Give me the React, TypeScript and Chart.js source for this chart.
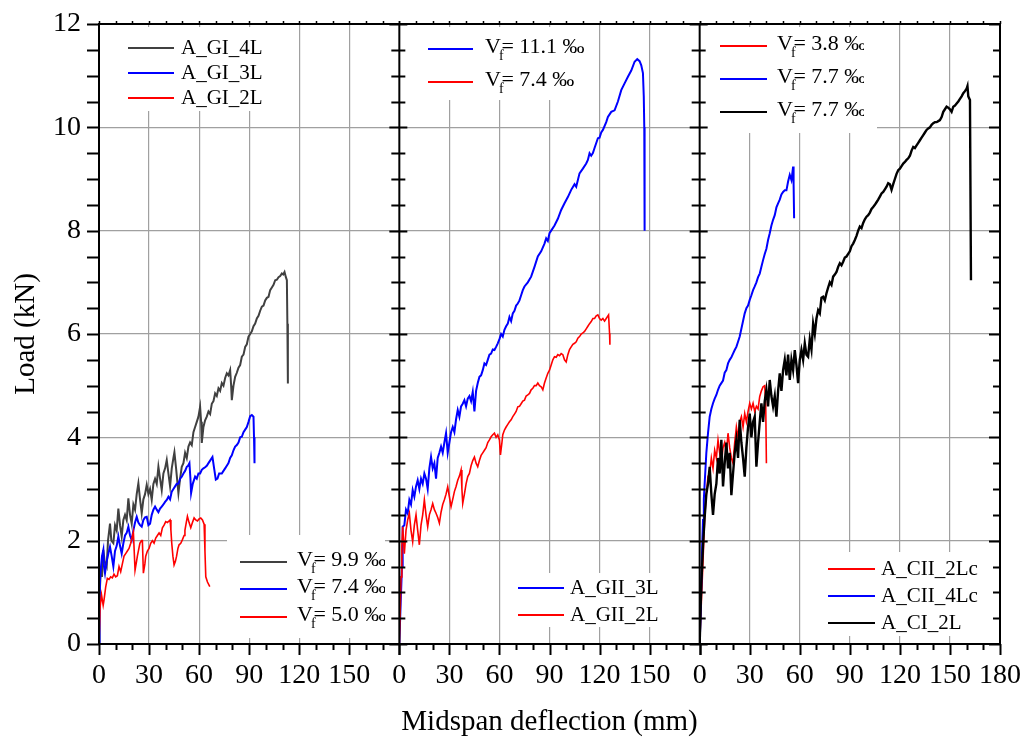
import React, { useEffect, useRef } from "react";
import { Chart, registerables } from "chart.js";

Chart.register(...registerables);

type Pt = [number, number];

// ---------- axis ranges & tick labels ----------
const X_MIN = 0;
const X_MAX = 180;
const X_STEP = 10;
const Y_MIN = 0;
const Y_MAX = 12;
const Y_STEP = 0.5;
const X_LABELS_OPEN = [0, 30, 60, 90, 120, 150];
const X_LABELS_LAST = [0, 30, 60, 90, 120, 150, 180];
const Y_LABELS = [0, 2, 4, 6, 8, 10, 12];
const X_TITLE = "Midspan deflection (mm)";
const Y_TITLE = "Load (kN)";

// ---------- panel 1 (GI) ----------
const A_GI_4L: Pt[] = [
  [0, 0], [0.3, 0.6], [0.6, 1.11], [1.2, 1.5], [1.8, 1.3], [2.6, 1.82], [3.4, 1.6], [4.6, 1.5], [5.4, 2.0], [6.6, 2.33],
  [7.4, 2.0], [8.6, 1.95], [9.6, 2.3], [10.6, 2.2], [11.6, 2.62], [12.6, 2.3], [13.6, 2.08], [14.6, 2.4], [15.6, 2.5], [16.6, 2.4],
  [17.6, 2.82], [18.6, 2.5], [19.6, 2.33], [20.6, 2.7], [21.6, 2.6], [22.6, 2.9], [23.6, 3.11], [24.6, 2.8], [25.6, 2.53], [26.6, 2.8],
  [27.6, 2.9], [28.6, 3.08], [29.6, 2.9], [30.6, 3.0], [31.6, 2.79], [32.6, 3.1], [33.6, 3.2], [34.6, 3.1], [35.6, 3.43], [36.6, 3.2],
  [37.6, 2.98], [38.6, 3.3], [39.6, 3.4], [40.6, 3.56], [41.6, 3.3], [42.6, 3.05], [43.6, 3.4], [44.6, 3.6], [45.2, 3.71], [46.2, 3.4],
  [47.6, 2.92], [48.6, 3.2], [49.6, 3.43], [50.6, 3.5], [51.6, 3.7], [52.6, 3.6], [53.6, 3.82], [54.6, 3.9], [55.6, 3.85], [56.6, 4.1],
  [57.6, 4.2], [58.6, 4.3], [59.6, 4.4], [60.6, 4.59], [61.2, 4.3], [61.6, 3.89], [62.6, 4.2], [63.6, 4.33], [64.6, 4.4], [65.6, 4.5],
  [66.6, 4.45], [67.6, 4.65], [68.6, 4.7], [69.6, 4.85], [70.6, 4.8], [71.6, 4.95], [72.6, 4.9], [73.6, 5.05], [74.6, 5.0], [75.6, 5.15],
  [76.6, 5.24], [77.6, 5.2], [78.6, 5.3], [79.2, 5.0], [79.6, 4.72], [80.6, 5.0], [81.6, 5.17], [82.6, 5.25], [83.6, 5.35], [84.6, 5.4],
  [85.6, 5.56], [86.6, 5.6], [87.6, 5.75], [88.6, 5.8], [89.6, 5.95], [90.6, 6.0], [91.6, 6.05], [92.6, 6.15], [93.6, 6.2], [94.6, 6.3],
  [95.6, 6.35], [96.6, 6.45], [97.6, 6.53], [98.6, 6.55], [99.6, 6.65], [100.6, 6.7], [101.6, 6.72], [102.6, 6.85], [103.6, 6.9], [104.6, 6.95],
  [105.6, 7.04], [106.6, 7.05], [107.6, 7.1], [108.6, 7.12], [109.6, 7.17], [110.4, 7.15], [111.2, 7.2], [112, 7.1], [112.6, 7.04], [112.9, 6.2],
  [113.2, 5.04],
];
const A_GI_3L: Pt[] = [
  [0, 0], [0.3, 0.7], [0.6, 1.24], [1.2, 1.5], [1.8, 1.7], [2.6, 1.82], [3.0, 1.5], [3.6, 1.37], [4.6, 1.6], [5.6, 1.75],
  [6.6, 1.88], [7.6, 1.7], [8.6, 1.5], [9.6, 1.8], [10.6, 1.9], [11.6, 2.08], [12.6, 1.9], [13.6, 1.75], [14.6, 1.95], [15.6, 2.1],
  [16.6, 2.15], [17.6, 2.27], [18.6, 2.1], [19.6, 2.01], [20.6, 2.2], [21.6, 2.35], [22.6, 2.46], [23.6, 2.35], [24.6, 2.3], [25.6, 2.27],
  [26.6, 2.4], [27.6, 2.45], [28.6, 2.46], [29.6, 2.3], [30.6, 2.33], [31.6, 2.5], [32.6, 2.6], [33.6, 2.66], [34.6, 2.6], [35.6, 2.55],
  [36.6, 2.62], [37.6, 2.66], [38.6, 2.7], [39.6, 2.75], [40.6, 2.79], [41.6, 2.85], [42.6, 2.8], [43.6, 2.95], [44.6, 3.0], [45.6, 3.05],
  [46.6, 3.1], [47.6, 3.1], [48.6, 3.2], [49.6, 3.24], [50.6, 3.3], [51.6, 3.35], [52.6, 3.43], [53.4, 3.45], [54.2, 3.5], [54.8, 3.2],
  [55.2, 2.92], [56.2, 3.1], [57.6, 3.24], [58.6, 3.2], [59.6, 3.3], [60.6, 3.3], [61.6, 3.37], [62.6, 3.4], [63.6, 3.42], [64.6, 3.45],
  [65.6, 3.5], [66.6, 3.55], [68, 3.62], [69, 3.4], [70, 3.18], [71, 3.2], [72, 3.3], [73.6, 3.3], [74.6, 3.35], [75.6, 3.4],
  [76.6, 3.45], [77.6, 3.5], [78.6, 3.6], [79.6, 3.65], [80.6, 3.75], [81.6, 3.82], [82.6, 3.85], [83.6, 3.9], [84.6, 4.0], [85.6, 4.01],
  [86.6, 4.1], [87.6, 4.15], [88.6, 4.2], [89.6, 4.3], [90.6, 4.41], [91.6, 4.43], [92.6, 4.4], [92.9, 4.0], [93.2, 3.5],
];
const A_GI_2L: Pt[] = [
  [0, 0], [0.6, 0.7], [1.5, 0.95], [2.5, 0.75], [3, 0.85], [4, 1.1], [5, 1.27], [6, 1.25], [7, 1.3], [8, 1.28],
  [9, 1.35], [10, 1.3], [11, 1.32], [12, 1.5], [13, 1.4], [14, 1.55], [15, 1.7], [16, 1.75], [17, 1.8], [18, 1.85],
  [19, 1.95], [20.6, 2.17], [21.1, 1.8], [21.6, 1.43], [22.5, 1.6], [23, 1.7], [24.5, 1.95], [25.5, 2.0], [26, 2.0], [26.6, 1.37],
  [27.5, 1.55], [28, 1.7], [29, 1.8], [30, 1.85], [31, 1.95], [32, 2.0], [33, 1.95], [34, 2.05], [35, 2.1], [36, 2.15],
  [37, 2.1], [38, 2.25], [39, 2.3], [40, 2.37], [41, 2.35], [42.6, 2.4], [43.1, 2.2], [43.6, 1.95], [44.3, 1.7], [45, 1.53],
  [45.8, 1.6], [46.5, 1.7], [47.3, 1.85], [48, 1.92], [49, 1.95], [50, 2.02], [51, 2.1], [51.5, 2.2], [52.3, 2.35], [53, 2.47],
  [54, 2.35], [55, 2.25], [56, 2.35], [57, 2.44], [58, 2.4], [59, 2.38], [60, 2.42], [61, 2.44], [62, 2.4], [63, 2.32],
  [63.5, 1.8], [64, 1.3], [65, 1.2], [66.4, 1.11],
];

// ---------- panel 2 (GII) ----------
const A_GII_3L: Pt[] = [
  [0, 0], [0.5, 0.5], [1, 0.98], [1.6, 1.5], [2, 2.27], [3, 2.3], [4, 2.6], [5, 2.53], [6, 2.79], [7, 2.7],
  [8, 2.98], [9, 2.85], [10, 3.05], [11, 3.17], [12, 3.0], [13, 3.2], [14, 3.1], [15, 3.3], [16, 3.2], [17, 3.0],
  [18, 3.4], [19, 3.62], [20, 3.4], [21, 3.5], [22, 3.2], [23, 3.6], [24, 3.7], [25, 3.82], [26, 3.7], [27, 3.9],
  [28, 4.08], [29, 3.7], [30, 3.9], [31, 4.1], [32, 4.2], [33, 4.1], [34, 4.35], [35, 4.53], [36, 4.4], [37, 4.6],
  [38, 4.65], [39, 4.72], [40, 4.6], [41, 4.75], [42, 4.8], [43, 4.7], [44, 4.88], [45, 4.5], [46, 4.9], [47, 5.05],
  [48, 5.17], [49, 5.2], [50, 5.3], [51, 5.43], [52, 5.4], [53, 5.5], [54, 5.6], [55, 5.62], [56, 5.7], [57, 5.69],
  [58, 5.75], [59, 5.82], [60, 5.9], [61, 6.0], [62, 5.95], [63, 6.08], [64, 6.15], [65, 6.2], [66, 6.33], [67, 6.25],
  [68, 6.4], [69, 6.45], [70, 6.55], [71, 6.59], [72, 6.65], [73, 6.75], [74, 6.85], [75, 6.92], [77, 7.0], [79, 7.11],
  [81, 7.3], [83, 7.5], [85, 7.6], [87, 7.75], [88, 7.85], [89, 7.8], [90, 7.95], [91, 8.0], [93, 8.1], [95, 8.23],
  [97, 8.4], [99, 8.53], [101, 8.65], [103, 8.79], [105, 8.9], [106, 8.85], [108, 9.11], [110, 9.2], [112, 9.3], [113, 9.37],
  [114, 9.5], [115, 9.45], [116, 9.5], [117, 9.6], [119, 9.79], [120, 9.8], [121, 9.9], [122, 9.95], [124, 10.1], [125, 10.2],
  [127, 10.3], [129, 10.33], [131, 10.5], [133, 10.72], [135, 10.85], [137, 10.98], [139, 11.1], [141, 11.27], [142.6, 11.32], [144, 11.28],
  [145, 11.2], [146, 11.05], [146.5, 10.6], [146.8, 10.0], [147, 8.0],
];
const A_GII_2L: Pt[] = [
  [0, 0], [0.5, 0.6], [1, 1.3], [1.5, 1.9], [2, 2.27], [3, 1.75], [4, 2.2], [5, 2.4], [6, 2.53], [7, 2.2],
  [8, 1.98], [9, 2.3], [10, 2.5], [11, 2.2], [12, 1.92], [13, 2.3], [14, 2.5], [15, 2.79], [16, 2.5], [17, 2.27],
  [18, 2.5], [19, 2.6], [20, 2.72], [21, 2.6], [22, 2.53], [23, 2.45], [24, 2.34], [25, 2.55], [26, 2.7], [27, 2.79],
  [28, 2.9], [29, 3.04], [30, 2.85], [31, 2.66], [32, 2.8], [33, 2.95], [34, 3.05], [35, 3.17], [36, 3.25], [37, 3.37],
  [37.5, 3.0], [38, 2.72], [39, 2.9], [40, 3.1], [41, 3.24], [42, 3.3], [43, 3.45], [44, 3.55], [45, 3.62], [46, 3.5],
  [47, 3.43], [48, 3.55], [49, 3.65], [50, 3.7], [51, 3.75], [52, 3.8], [53, 3.9], [54, 3.95], [55, 4.01], [56, 4.05],
  [57, 4.08], [58, 4.0], [59, 4.05], [60, 3.95], [60.6, 3.66], [61.5, 3.9], [62, 4.05], [63, 4.14], [64, 4.2], [65, 4.25],
  [66, 4.3], [67, 4.34], [68, 4.4], [69, 4.45], [70, 4.5], [71, 4.59], [72, 4.6], [73, 4.65], [74, 4.7], [75, 4.72],
  [76, 4.8], [77, 4.82], [78, 4.85], [79, 4.92], [80, 4.95], [81, 5.0], [82, 5.0], [83, 5.05], [84, 5.0], [85, 4.98],
  [86, 4.92], [87, 5.05], [88, 5.15], [89, 5.24], [90, 5.3], [91, 5.4], [92, 5.5], [93, 5.56], [94, 5.55], [95, 5.6],
  [96, 5.58], [97, 5.62], [98, 5.6], [99, 5.5], [100, 5.46], [101, 5.6], [102, 5.7], [103, 5.75], [104, 5.8], [105, 5.82],
  [106, 5.85], [107, 5.92], [108, 5.95], [109, 6.0], [110, 6.02], [111, 6.05], [112, 6.1], [113, 6.15], [114, 6.2], [115, 6.24],
  [116, 6.3], [117, 6.3], [118, 6.35], [119, 6.37], [120, 6.3], [121, 6.27], [122, 6.3], [123, 6.25], [124, 6.3], [125, 6.35],
  [125.4, 6.37], [126, 6.01], [126.2, 5.79],
];

// ---------- panel 3 (C) ----------
const A_CII_2Lc: Pt[] = [
  [0, 0], [1, 0.8], [2, 1.6], [3, 2.46], [4, 2.9], [5, 3.24], [6, 3.3], [7, 3.6], [8, 3.4], [9, 3.75],
  [10, 3.6], [11, 3.95], [12, 3.7], [13, 3.5], [14, 3.8], [15, 3.9], [16, 3.7], [17, 4.08], [18, 3.8], [19, 3.6],
  [20, 3.5], [21, 3.9], [22, 4.2], [23, 4.0], [24, 4.3], [25, 4.4], [26, 4.2], [27, 4.46], [28, 4.3], [29, 4.5],
  [30, 4.66], [31, 4.55], [32, 4.66], [33, 4.5], [34, 4.6], [35, 4.55], [36, 4.79], [37, 4.9], [38, 4.98], [39, 5.0],
  [39.6, 4.6], [40, 3.5],
];
const A_CII_4Lc: Pt[] = [
  [0, 0], [0.5, 0.5], [1, 1.17], [1.5, 1.9], [2, 2.4], [2.5, 2.8], [3, 3.11], [4, 3.7], [5, 4.08], [6, 4.4],
  [7, 4.55], [8, 4.66], [9, 4.75], [10, 4.82], [11, 4.92], [12, 5.0], [13, 5.05], [14, 5.1], [15, 5.25], [16, 5.3],
  [17, 5.43], [18, 5.5], [19, 5.55], [20, 5.62], [21, 5.69], [22, 5.75], [23, 5.85], [24, 5.95], [25, 6.1], [26, 6.25],
  [27, 6.4], [28, 6.5], [29, 6.55], [30, 6.66], [31, 6.75], [32, 6.85], [33, 6.92], [34, 7.0], [35, 7.1], [36, 7.17],
  [37, 7.3], [38, 7.43], [39, 7.55], [40, 7.65], [41, 7.82], [42, 7.95], [43, 8.1], [44, 8.21], [45, 8.3], [46, 8.45],
  [47, 8.53], [48, 8.6], [49, 8.7], [50, 8.75], [51, 8.78], [52, 8.78], [53, 8.95], [54, 9.08], [55, 8.98], [55.5, 9.1],
  [56, 9.24], [56.3, 8.9], [56.6, 8.24],
];
const A_CI_2L: Pt[] = [
  [0, 0], [0.5, 0.6], [1, 1.17], [2, 1.9], [3, 2.46], [4, 2.9], [5, 3.1], [6, 3.43], [7, 2.9], [8, 2.5],
  [9, 2.9], [10, 3.1], [11, 3.6], [12, 3.3], [13, 3.95], [14, 3.05], [15, 3.5], [16, 3.9], [17, 3.4], [18, 3.7],
  [19, 2.88], [20, 3.3], [21, 3.7], [22, 3.95], [23, 3.6], [24, 4.34], [25, 3.9], [26, 3.6], [27, 3.24], [28, 3.8],
  [29, 4.2], [30, 4.46], [31, 4.0], [32, 4.3], [33, 4.4], [34, 3.43], [35, 3.9], [36, 4.3], [37, 4.66], [38, 4.3],
  [39, 4.7], [40, 4.92], [41, 4.6], [42, 5.11], [43, 4.8], [44, 4.6], [45, 4.8], [46, 4.4], [47, 4.9], [48, 5.24],
  [49, 4.9], [50, 5.3], [51, 5.5], [52, 5.2], [53, 5.6], [54, 5.11], [55, 5.5], [56, 5.3], [57, 5.69], [58, 5.4],
  [59, 5.05], [60, 5.5], [61, 5.69], [62, 5.5], [63, 5.82], [64, 5.6], [65, 5.56], [66, 5.9], [67, 5.7], [68, 6.2],
  [69, 6.0], [70, 6.3], [71, 6.46], [72, 6.4], [73, 6.7], [74, 6.72], [75, 6.65], [76, 6.79], [77, 6.9], [78, 7.0],
  [79, 6.95], [80, 7.11], [81, 7.15], [82, 7.2], [83, 7.3], [84, 7.37], [85, 7.33], [86, 7.4], [87, 7.48], [88, 7.5],
  [89, 7.55], [90, 7.6], [91, 7.7], [92, 7.75], [93, 7.82], [94, 7.9], [95, 8.0], [96, 8.08], [97, 8.05], [98, 8.15],
  [99, 8.22], [100, 8.27], [101, 8.3], [102, 8.35], [103, 8.42], [104, 8.46], [105, 8.5], [106, 8.55], [107, 8.6], [108, 8.66],
  [109, 8.72], [110, 8.75], [111, 8.8], [112, 8.85], [113, 8.92], [114, 8.9], [115, 8.79], [116, 8.9], [117, 9.0], [118, 9.1],
  [119, 9.17], [120, 9.2], [121, 9.25], [122, 9.3], [123, 9.33], [124, 9.37], [125, 9.4], [126, 9.45], [127, 9.55], [128, 9.62],
  [129, 9.6], [130, 9.65], [131, 9.7], [132, 9.75], [133, 9.8], [134, 9.85], [135, 9.9], [136, 9.95], [137, 9.98], [138, 10.0],
  [139, 10.05], [140, 10.08], [141, 10.1], [142, 10.1], [143, 10.12], [144, 10.14], [145, 10.2], [146, 10.3], [147, 10.35], [148, 10.4],
  [149, 10.38], [150, 10.35], [151, 10.3], [152, 10.4], [153, 10.42], [154, 10.46], [155, 10.5], [156, 10.55], [157, 10.6], [158, 10.66],
  [159, 10.7], [160, 10.75], [160.5, 10.8], [161, 10.6], [162, 10.53], [162.6, 7.04],
];

// ---------- legend texts ----------
const VF_PANEL1 = ["9.9", "7.4", "5.0"];
const VF_PANEL2 = ["11.1", "7.4"];
const VF_PANEL3 = ["3.8", "7.7", "7.7"];

const GRAY = "#404040";
const BLUE = "#0000ff";
const RED = "#ff0000";
const BLACK = "#000000";
const GRID = "#a0a0a0";
const FONT = '"Liberation Serif", "Times New Roman", serif';

type Series = { label: string; data: Pt[]; color: string; axis: string; width: number; order: number };
const SERIES: Series[] = [
  { label: "A_GI_2L", data: A_GI_2L, color: RED, axis: "x1", width: 1.6, order: 0 },
  { label: "A_GI_3L", data: A_GI_3L, color: BLUE, axis: "x1", width: 2, order: 1 },
  { label: "A_GI_4L", data: A_GI_4L, color: GRAY, axis: "x1", width: 2, order: 2 },
  { label: "A_GII_2L", data: A_GII_2L, color: RED, axis: "x2", width: 1.6, order: 0 },
  { label: "A_GII_3L", data: A_GII_3L, color: BLUE, axis: "x2", width: 2, order: 1 },
  { label: "A_CI_2L", data: A_CI_2L, color: BLACK, axis: "x3", width: 2.4, order: 0 },
  { label: "A_CII_4Lc", data: A_CII_4Lc, color: BLUE, axis: "x3", width: 2, order: 1 },
  { label: "A_CII_2Lc", data: A_CII_2Lc, color: RED, axis: "x3", width: 1.6, order: 2 },
];

type LegItem = { color: string; text?: string; vf?: string };
type Legend = {
  box: [number, number, number, number];
  rows: number[];
  line: [number, number];
  textX: number;
  clipRight?: number;
  items: LegItem[];
};
const LEGENDS: Legend[] = [
  {
    box: [110, 27, 165, 84], rows: [48, 73, 98], line: [128, 174], textX: 181,
    items: [{ color: GRAY, text: "A_GI_4L" }, { color: BLUE, text: "A_GI_3L" }, { color: RED, text: "A_GI_2L" }],
  },
  {
    box: [227, 535, 158, 103], rows: [562, 589, 617], line: [240, 287], textX: 297, clipRight: 385,
    items: [{ color: GRAY, vf: VF_PANEL1[0] }, { color: BLUE, vf: VF_PANEL1[1] }, { color: RED, vf: VF_PANEL1[2] }],
  },
  {
    box: [405, 27, 187, 73], rows: [49, 82], line: [428, 473], textX: 485,
    items: [{ color: BLUE, vf: VF_PANEL2[0] }, { color: RED, vf: VF_PANEL2[1] }],
  },
  {
    box: [508, 573, 162, 54], rows: [588, 615], line: [518, 564], textX: 570,
    items: [{ color: BLUE, text: "A_GII_3L" }, { color: RED, text: "A_GII_2L" }],
  },
  {
    box: [703, 27, 174, 106], rows: [46, 79, 112], line: [720, 767], textX: 777, clipRight: 864,
    items: [{ color: RED, vf: VF_PANEL3[0] }, { color: BLUE, vf: VF_PANEL3[1] }, { color: BLACK, vf: VF_PANEL3[2] }],
  },
  {
    box: [818, 552, 145, 84], rows: [569, 596, 623], line: [828, 875], textX: 881,
    items: [{ color: RED, text: "A_CII_2Lc" }, { color: BLUE, text: "A_CII_4Lc" }, { color: BLACK, text: "A_CI_2L" }],
  },
];

function seg(ctx: CanvasRenderingContext2D, x0: number, y0: number, x1: number, y1: number) {
  ctx.beginPath();
  ctx.moveTo(x0, y0);
  ctx.lineTo(x1, y1);
  ctx.stroke();
}

const legendPlugin = {
  id: "panelLegends",
  afterDatasetsDraw(chart: any) {
    const ctx: CanvasRenderingContext2D = chart.ctx;
    LEGENDS.forEach((lg) => {
      ctx.save();
      ctx.fillStyle = "#ffffff";
      ctx.fillRect(lg.box[0], lg.box[1], lg.box[2], lg.box[3]);
      if (lg.clipRight) {
        ctx.beginPath();
        ctx.rect(lg.box[0], lg.box[1], lg.clipRight - lg.box[0], lg.box[3]);
        ctx.clip();
      }
      lg.items.forEach((it, i) => {
        const y = lg.rows[i];
        ctx.strokeStyle = it.color;
        ctx.lineWidth = 2;
        seg(ctx, lg.line[0], y, lg.line[1], y);
        ctx.fillStyle = "#000";
        ctx.textAlign = "left";
        ctx.textBaseline = "middle";
        if (it.vf) {
          ctx.font = `22px ${FONT}`;
          ctx.fillText("V", lg.textX, y - 1.5);
          const wV = ctx.measureText("V").width;
          ctx.font = `14px ${FONT}`;
          ctx.fillText("f", lg.textX + wV - 2, y + 7);
          ctx.font = `22px ${FONT}`;
          ctx.fillText("= " + it.vf + " \u2030", lg.textX + wV + 0.5, y - 1.5);
        } else {
          ctx.font = `21px ${FONT}`;
          ctx.fillText(it.text || "", lg.textX, y);
        }
      });
      ctx.restore();
    });
  },
};

const framePlugin = {
  id: "panelFrame",
  afterDraw(chart: any) {
    const ctx: CanvasRenderingContext2D = chart.ctx;
    const ca = chart.chartArea;
    const ys = chart.scales.y;
    const xs = [chart.scales.x1, chart.scales.x2, chart.scales.x3];
    ctx.save();
    ctx.strokeStyle = "#000";
    ctx.lineWidth = 2;
    ctx.strokeRect(ca.left, ca.top, ca.right - ca.left, ca.bottom - ca.top);
    xs.slice(1).forEach((s: any) => seg(ctx, s.left, ca.top, s.left, ca.bottom));
    // y ticks
    for (let v = Y_MIN; v <= Y_MAX + 1e-9; v += Y_STEP) {
      const py = Math.round(ys.getPixelForValue(v)) + 0.5;
      const major = Y_LABELS.includes(v);
      ctx.lineWidth = 2;
      seg(ctx, ca.left - 12, py, ca.left, py);
      xs.slice(1).forEach((s: any) => seg(ctx, s.left - (major ? 10 : 8), py, s.left + (major ? 8 : 6), py));
      seg(ctx, ca.right - (major ? 11 : 7), py, ca.right, py);
    }
    // x ticks
    xs.forEach((s: any) => {
      for (let v = X_MIN; v <= X_MAX; v += X_STEP) {
        const px = Math.round(s.getPixelForValue(v)) + 0.5;
        const major = v % 30 === 0;
        ctx.lineWidth = 2;
        seg(ctx, px, ca.bottom, px, ca.bottom + (major ? 11 : 6));
        ctx.lineWidth = 1.5;
        seg(ctx, px, ca.top - 3, px, ca.top);
      }
    });
    ctx.restore();
  },
};

function xScale(labels: number[], title: boolean) {
  return {
    type: "linear",
    position: "bottom",
    stack: "panels",
    stackWeight: 1,
    min: X_MIN,
    max: X_MAX,
    afterFit: (s: any) => {
      s.height = 99;
      s.paddingLeft = 0;
      s.paddingRight = 0;
    },
    border: { display: false },
    grid: {
      drawTicks: false,
      lineWidth: 1.2,
      color: (c: any) => {
        const v = c.tick ? c.tick.value : -1;
        return v > X_MIN && v < X_MAX && v % 30 === 0 ? GRID : "rgba(0,0,0,0)";
      },
    },
    ticks: {
      stepSize: X_STEP,
      autoSkip: false,
      maxRotation: 0,
      padding: 15,
      color: "#000",
      font: { family: FONT, size: 28 },
      callback: (v: any) => (labels.includes(Number(v)) ? String(v) : ""),
    },
    title: {
      display: title,
      text: X_TITLE,
      color: "#000",
      font: { family: FONT, size: 29 },
      padding: { top: 0, bottom: 3 },
    },
  };
}

export default function App() {
  const ref = useRef<HTMLCanvasElement | null>(null);
  useEffect(() => {
    document.body.style.margin = "0";
    const canvas = ref.current;
    if (!canvas) return;
    const chart = new Chart(canvas, {
      type: "line",
      data: {
        datasets: SERIES.map((s) => ({
          label: s.label,
          data: s.data.map(([x, y]) => ({ x, y })),
          borderColor: s.color,
          backgroundColor: s.color,
          borderWidth: s.width,
          pointRadius: 0,
          pointHoverRadius: 0,
          pointHitRadius: 0,
          tension: 0,
          fill: false,
          xAxisID: s.axis,
          yAxisID: "y",
          order: s.order,
        })),
      },
      options: {
        animation: false,
        responsive: false,
        devicePixelRatio: 1,
        events: [],
        layout: { padding: { top: 24, right: 28, left: 0, bottom: 0 } },
        plugins: { legend: { display: false }, tooltip: { enabled: false } },
        scales: {
          x1: xScale(X_LABELS_OPEN, false),
          x2: xScale(X_LABELS_OPEN, true),
          x3: xScale(X_LABELS_LAST, false),
          y: {
            type: "linear",
            position: "left",
            min: Y_MIN,
            max: Y_MAX,
            afterFit: (s: any) => {
              s.width = 99;
              s.paddingTop = 0;
              s.paddingBottom = 0;
            },
            border: { display: false },
            grid: {
              drawTicks: false,
              lineWidth: 1.2,
              color: (c: any) => {
                const v = c.tick ? c.tick.value : -1;
                return v > Y_MIN && v < Y_MAX && Y_LABELS.includes(v) ? GRID : "rgba(0,0,0,0)";
              },
            },
            ticks: {
              stepSize: Y_STEP,
              autoSkip: false,
              padding: 18,
              color: "#000",
              font: { family: FONT, size: 28 },
              callback: (v: any) => (Y_LABELS.includes(Number(v)) ? String(v) : ""),
            },
            title: {
              display: true,
              text: Y_TITLE,
              color: "#000",
              font: { family: FONT, size: 29 },
              padding: { top: 9, bottom: 0 },
            },
          },
        },
      } as any,
      plugins: [legendPlugin, framePlugin],
    });
    return () => chart.destroy();
  }, []);
  return <canvas ref={ref} width={1028} height={743} style={{ display: "block" }} />;
}
